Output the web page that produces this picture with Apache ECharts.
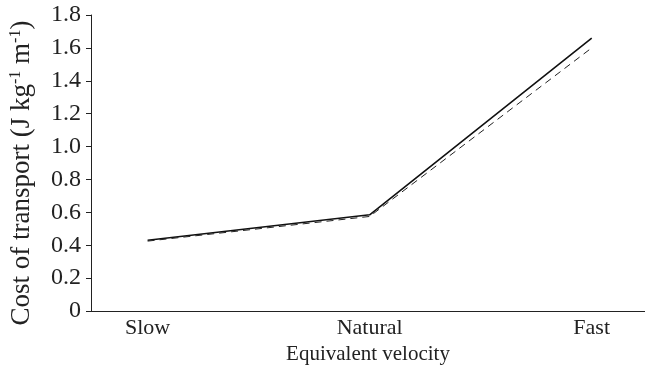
<!DOCTYPE html>
<html>
<head>
<meta charset="utf-8">
<script src="https://cdn.jsdelivr.net/npm/echarts@6/dist/echarts.min.js"></script>
<style>
	html, body { margin: 0; padding: 0; background: #fff; }
	#chart { width: 645px; height: 374px; }
</style>
</head>
<body>
<div id="chart"></div>
<script>
var categories = ['Slow', 'Natural', 'Fast'];
var catPos = [1, 2, 3];
var solidVals = [0.43, 0.585, 1.66];
var dashedVals = [0.425, 0.575, 1.60];
var yTicks = ['0', '0.2', '0.4', '0.6', '0.8', '1.0', '1.2', '1.4', '1.6', '1.8'];

function pairs(vals) {
	var out = [];
	for (var i = 0; i < vals.length; i++) {
		out.push([catPos[i], vals[i]]);
	}
	return out;
}

var font = 'Liberation Serif';
var chart = echarts.init(document.getElementById('chart'));
var option = {
	animation : false,
	textStyle : { fontFamily : font },
	grid : { left : 88, right : 0, top : 15, bottom : 63 },
	xAxis : {
		type : 'value',
		min : 0.745,
		max : 3.24,
		splitLine : { show : false },
		axisLine : { lineStyle : { color : '#222', width : 1 } },
		axisTick : { show : false },
		axisLabel : {
			customValues : catPos,
			color : '#222',
			fontFamily : font,
			fontSize : 22,
			margin : 6,
			formatter : function (v) { return categories[Math.round(v) - 1] || ''; }
		},
		name : 'Equivalent velocity',
		nameLocation : 'middle',
		nameGap : 32,
		nameTextStyle : { color : '#222', fontFamily : font, fontSize : 21 }
	},
	yAxis : {
		type : 'value',
		min : 0,
		max : 1.8,
		interval : 0.2,
		splitLine : { show : false },
		axisLine : { show : true, lineStyle : { color : '#222', width : 1 } },
		axisTick : { show : true, length : 5, lineStyle : { color : '#222' } },
		axisLabel : {
			color : '#222',
			fontFamily : font,
			fontSize : 24,
			margin : 10,
			formatter : function (v) { return yTicks[Math.round(v * 5)]; }
		},
		name : '{a|Cost of transport (J kg}{s|-1}{a| m}{s|-1}{a|)}',
		nameLocation : 'middle',
		nameRotate : 90,
		nameGap : 56,
		nameTextStyle : {
			padding : [0, 20, 0, 0],
			rich : {
				a : { fontFamily : font, fontSize : 27, color : '#222' },
				s : { fontFamily : font, fontSize : 16, color : '#222', verticalAlign : 'top', padding : [0, 0, 11, 0] }
			}
		}
	},
	series : [ {
		name : 'solid',
		type : 'line',
		data : pairs(solidVals),
		symbol : 'none',
		lineStyle : { color : '#111', width : 1.6, type : 'solid' }
	}, {
		name : 'dashed',
		type : 'line',
		data : pairs(dashedVals),
		symbol : 'none',
		lineStyle : { color : '#222', width : 1, type : [7, 5] }
	} ]
};
chart.setOption(option);
</script>
</body>
</html>
